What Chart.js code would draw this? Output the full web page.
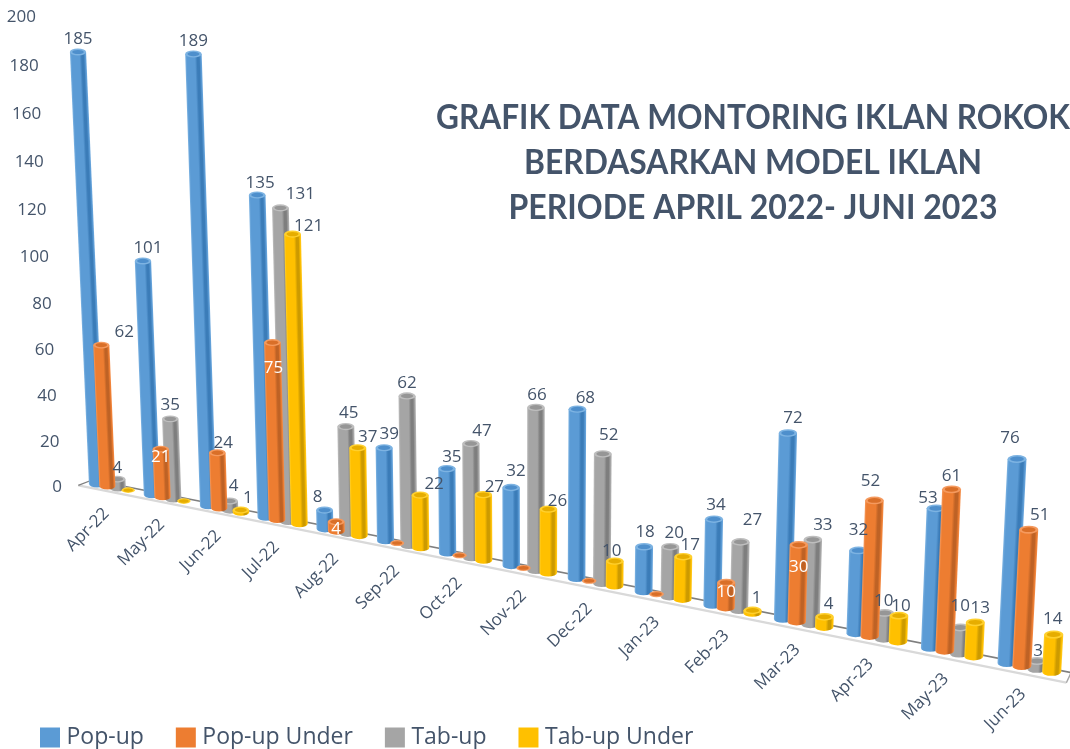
<!DOCTYPE html>
<html><head><meta charset="utf-8">
<style>html,body{margin:0;padding:0;background:#fff;overflow:hidden}canvas{display:block}</style>
<script src="https://cdn.jsdelivr.net/npm/chart.js@4/dist/chart.umd.min.js"></script>
</head><body><canvas id="c" width="1070" height="749"></canvas>
<script>
const categories=['Apr-22','May-22','Jun-22','Jul-22','Aug-22','Sep-22','Oct-22','Nov-22','Dec-22','Jan-23','Feb-23','Mar-23','Apr-23','May-23','Jun-23'];
const popUp=[185,101,189,135,8,39,35,32,68,18,34,72,32,53,76];
const popUpUnder=[62,21,24,75,4,0,0,0,0,0,10,30,52,61,51];
const tabUp=[4,35,4,131,45,62,47,66,52,20,27,33,10,10,3];
const tabUpUnder=[0,0,1,121,37,22,27,26,10,17,1,4,10,13,14];
const yTicks={min:0,max:200,step:20};
const titleLines=['GRAFIK DATA MONTORING IKLAN ROKOK','BERDASARKAN MODEL IKLAN','PERIODE APRIL 2022- JUNI 2023'];
// label nudges relative to each bar top (series order)
const nudgeX=[[0,5,0,3,-7,5,5,5,8,1,2,5,0,-8,-7],[23,0,6,1,0,0,0,0,0,0,0,0,-4,0,11],[0,0,4,20,3,0,11,1,6,4,12,10,-1,0,1],[0,0,7,16,10,14,11,9,-3,7,4,4,2,5,-1]];
const nudgeY=[[-13,-13,-13,-12,-13,-14,-11,-16,-11,-15,-14,-15,-20,-10,-21],[-13,8,-10,26,7,0,0,0,0,0,10,22,-19,-13,-14],[-11,-14,-15,-14,-13,-13,-12,-12,-19,-13,-22,-14,-12,-21,-10],[0,0,-12,-8,-11,-11,-8,-8,-10,-11,-12,-13,-9,-14,-15]];
const whiteLabels=[[],[1,3,4,10,11],[],[]];
const INK='#44546A';
const UI='"Open Sans"';
const palette=[
 {base:'#5B9BD5',light:'#6FA9DE',dark:'#3B7CB8',rim:'#7DB3E2',inner:'#4E8FCC'},
 {base:'#ED7D31',light:'#F48F4C',dark:'#BE6225',rim:'#F59A5E',inner:'#D96F28'},
 {base:'#A5A5A5',light:'#B4B4B4',dark:'#7E7E7E',rim:'#BEBEBE',inner:'#969696'},
 {base:'#FFC000',light:'#FFCB2E',dark:'#CC9A00',rim:'#FFD02E',inner:'#E6AD00'}];
const CATEGORY_SHARE=.76;
function solveH(src,dst){
  const A=[];
  src.forEach((s,i)=>{const [x,y]=s,[X,Y]=dst[i];
    A.push([x,y,1,0,0,0,-x*X,-y*X,X]);A.push([0,0,0,x,y,1,-x*Y,-y*Y,Y]);});
  for(let c=0;c<8;c++){let p=c;for(let r=c+1;r<8;r++)if(Math.abs(A[r][c])>Math.abs(A[p][c]))p=r;
    [A[c],A[p]]=[A[p],A[c]];
    for(let r=0;r<8;r++){if(r===c)continue;const f=A[r][c]/A[c][c];for(let k=c;k<9;k++)A[r][k]-=f*A[c][k];}}
  return A.map((r,i)=>r[8]/r[i]);
}
const firstBar=.5-CATEGORY_SHARE*3/8;
const tA=firstBar/categories.length,tB=(14+firstBar)/categories.length;
const H=solveH([[tA,0],[tB,0],[tA,.925],[tB,.38]],[[97,484],[1007,663],[78,52],[1017,459]]);
function P(t,w){const d=H[6]*t+H[7]*w+1;return {x:(H[0]*t+H[1]*w+H[2])/d,y:(H[3]*t+H[4]*w+H[5])/d};}
function localScale(t){return Math.hypot(P(t,.1).x-P(t,0).x,P(t,.1).y-P(t,0).y)/Math.hypot(P(tA,.1).x-P(tA,0).x,P(tA,.1).y-P(tA,0).y);}

function drawCylinder(ctx,B,T,r,c){
  const ry=r*.42,h=B.y-T.y,k=h>0.01?(T.x-B.x)/(T.y-B.y):0;
  ctx.save();ctx.translate(B.x,B.y);ctx.transform(1,0,k,1,0,0);
  if(h>0.5){
    const g=ctx.createLinearGradient(-r,0,r,0);
    g.addColorStop(0,c.rim);g.addColorStop(.1,c.base);g.addColorStop(.58,c.base);
    g.addColorStop(.72,c.dark);g.addColorStop(.84,c.dark);g.addColorStop(.94,c.base);g.addColorStop(1,c.light);
    ctx.fillStyle=g;ctx.beginPath();ctx.moveTo(-r,-h);ctx.lineTo(-r,0);
    ctx.ellipse(0,0,r,ry,0,Math.PI,0,true);ctx.lineTo(r,-h);ctx.closePath();ctx.fill();
  }
  ctx.fillStyle=c.rim;ctx.beginPath();ctx.ellipse(0,-h,r,ry,0,0,Math.PI*2);ctx.fill();
  ctx.fillStyle=c.inner;ctx.beginPath();ctx.ellipse(0,-h,r*.72,ry*.62,0,0,Math.PI*2);ctx.fill();
  ctx.restore();
}
function line(ctx,a,b,col,w){ctx.strokeStyle=col;ctx.lineWidth=w;ctx.beginPath();ctx.moveTo(a.x,a.y);ctx.lineTo(b.x,b.y);ctx.stroke();}
const LEGEND_SHIFT=10;
const projector={id:'projector',
  afterLayout(chart){chart.legend.top+=LEGEND_SHIFT;chart.legend.bottom+=LEGEND_SHIFT;},
  beforeDatasetsDraw(chart){
    const ctx=chart.ctx,a=chart.chartArea;
    const fr=(x,y)=>[(x-a.left)/a.width,(a.bottom-y)/a.height];
    const bl=P(tA-.006,0),br=P(1.002,0),fl=P(tA-.023,0),fr2=P(.998,0);
    ctx.save();
    line(ctx,{x:fl.x,y:fl.y+5},{x:fr2.x,y:fr2.y+8},'#D9D9D9',2.2);
    line(ctx,{x:bl.x,y:bl.y-3},{x:br.x,y:br.y-3},'#7F7F7F',1.6);
    line(ctx,{x:fl.x,y:fl.y+5},{x:bl.x,y:bl.y-3},'#7F7F7F',1.2);
    line(ctx,{x:fr2.x,y:fr2.y+8},{x:br.x,y:br.y-3},'#A6A6A6',1.4);
    ctx.restore();
    // bars: element geometry comes from the chart's scales, then is projected
    const elemW=chart.getDatasetMeta(0).data[0].width;
    [0,2,1,3].forEach(ds=>{
      chart.getDatasetMeta(ds).data.forEach(el=>{
        const [t,w]=fr(el.x,el.y),[,w0]=fr(el.x,el.base);
        const s=localScale(t);
        drawCylinder(ctx,P(t,w0),P(t,w),elemW*.605*s*(w===w0?.82:1),palette[ds]);
      });
    });
    return false;
  },
  afterDraw(chart){
    const ctx=chart.ctx,a=chart.chartArea;
    ctx.save();
    const ys=chart.scales.y;
    ctx.font='17px '+UI;ctx.fillStyle=INK;ctx.textAlign='right';ctx.textBaseline='middle';
    ys.ticks.forEach(tk=>{const w=(a.bottom-ys.getPixelForValue(tk.value))/a.height;
      ctx.fillText(String(tk.value),62-26*w,(487-470.7*w)/(1-.0417*w));});
    const xs=chart.scales.x;
    chart.data.labels.forEach((lab,i)=>{
      const p=P((xs.getPixelForTick(i)-a.left)/a.width,0);
      ctx.save();ctx.translate(p.x-6,p.y+24);ctx.rotate(-Math.PI/4);
      ctx.textAlign='right';ctx.textBaseline='middle';ctx.fillStyle=INK;ctx.fillText(lab,0,0);ctx.restore();
    });
    chart.data.datasets.forEach((d,ds)=>{
      const meta=chart.getDatasetMeta(ds);
      d.data.forEach((v,i)=>{ if(!v) return;
        const el=meta.data[i],T=P((el.x-a.left)/a.width,(a.bottom-el.y)/a.height);
        ctx.textAlign='center';ctx.textBaseline='middle';
        ctx.fillStyle=whiteLabels[ds].includes(i)?'#FFFFFF':INK;
        ctx.fillText(String(v),T.x+nudgeX[ds][i],T.y+nudgeY[ds][i]);
      });
    });
    ctx.fillStyle=INK;ctx.font='bold 35px Lato';ctx.textAlign='center';ctx.textBaseline='middle';
    const widths=[634,458,489],ty=[118,163,208];
    titleLines.forEach((s,i)=>{const m=ctx.measureText(s).width;
      ctx.save();ctx.translate(753,ty[i]);ctx.scale(widths[i]/m,1);ctx.fillText(s,0,0);ctx.restore();});
    ctx.restore();
  }
};
new Chart(document.getElementById('c'),{
  type:'bar',
  data:{labels:categories,datasets:[
    {label:'Pop-up',data:popUp,backgroundColor:'#5B9BD5'},
    {label:'Pop-up Under',data:popUpUnder,backgroundColor:'#ED7D31'},
    {label:'Tab-up',data:tabUp,backgroundColor:'#A5A5A5'},
    {label:'Tab-up Under',data:tabUpUnder,backgroundColor:'#FFC000'}]},
  options:{responsive:false,animation:false,
    layout:{padding:{left:8,right:0,top:0,bottom:0}},
    datasets:{bar:{categoryPercentage:CATEGORY_SHARE,barPercentage:1}},
    scales:{
      x:{grid:{display:false},border:{display:false},ticks:{display:false}},
      y:{min:yTicks.min,max:yTicks.max,ticks:{display:false,stepSize:yTicks.step},grid:{display:false},border:{display:false}}},
    plugins:{
      tooltip:{enabled:false},title:{display:false},
      legend:{position:'bottom',align:'start',labels:{usePointStyle:true,pointStyle:'rect',boxWidth:10,boxHeight:20,padding:37,color:INK,font:{family:'Open Sans',size:23}}}
    }},
  plugins:[projector]
});
</script></body></html>
